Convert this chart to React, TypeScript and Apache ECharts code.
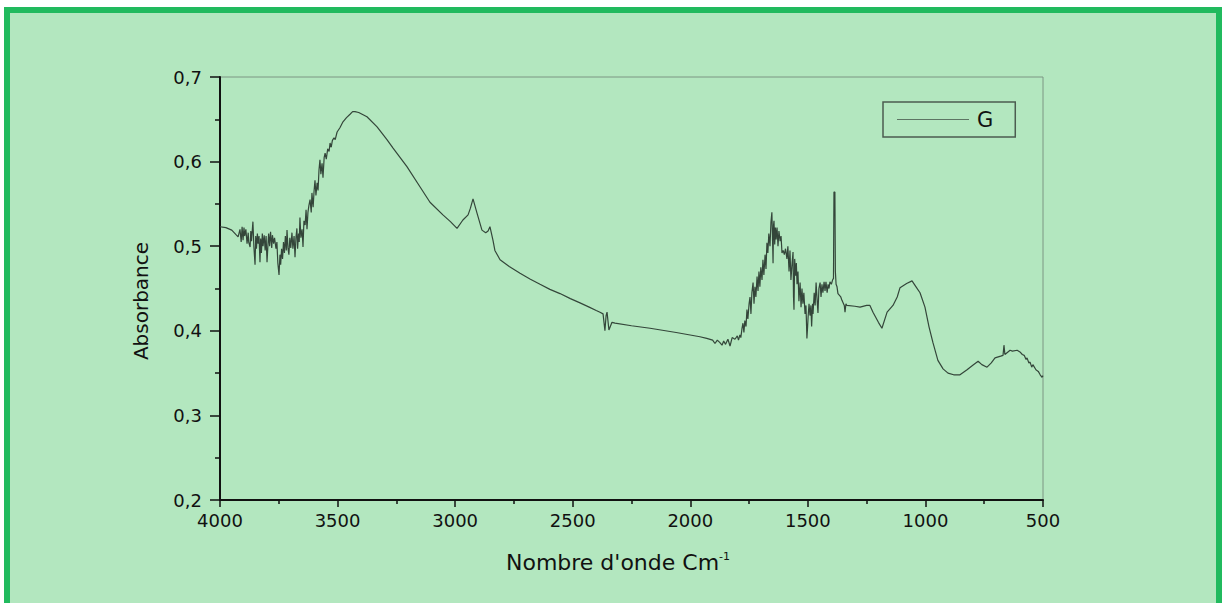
import React, { useEffect, useRef } from "react";
import * as echarts from "echarts";

const seriesName = "G";

const wavenumbers = [
  4000, 3975, 3950, 3930, 3923, 3915, 3910, 3906, 3902, 3898, 3895, 3890, 3885, 3880, 3878, 3872,
  3869, 3866, 3860, 3856, 3851, 3848, 3845, 3841, 3838, 3834, 3830, 3827, 3824, 3820, 3817, 3812,
  3808, 3804, 3800, 3796, 3793, 3789, 3785, 3780, 3777, 3772, 3768, 3762, 3758, 3754, 3749, 3745,
  3742, 3738, 3734, 3730, 3726, 3722, 3718, 3715, 3711, 3707, 3703, 3699, 3694, 3690, 3685, 3681,
  3677, 3673, 3670, 3666, 3663, 3660, 3656, 3651, 3647, 3643, 3638, 3634, 3630, 3626, 3622, 3617,
  3612, 3609, 3604, 3600, 3596, 3592, 3587, 3583, 3579, 3575, 3571, 3566, 3562, 3557, 3553, 3548,
  3542, 3536, 3532, 3527, 3522, 3515, 3510, 3502, 3490, 3477, 3462, 3447, 3436, 3426, 3410, 3375,
  3332, 3290, 3264, 3205, 3149, 3107, 3052, 3020, 2992, 2967, 2945, 2935, 2924, 2907, 2886, 2870,
  2860, 2852, 2839, 2831, 2809, 2770, 2724, 2680, 2639, 2597, 2554, 2510, 2469, 2430, 2400, 2384,
  2371, 2363, 2358, 2354, 2346, 2333, 2320, 2250, 2171, 2060, 1959, 1930, 1905, 1895, 1885, 1874,
  1865, 1858, 1850, 1840, 1831, 1822, 1810, 1800, 1795, 1789, 1785, 1780, 1776, 1772, 1768, 1763,
  1759, 1755, 1750, 1746, 1742, 1738, 1733, 1729, 1725, 1721, 1716, 1712, 1708, 1704, 1700, 1695,
  1691, 1687, 1682, 1678, 1674, 1670, 1666, 1661, 1657, 1653, 1650, 1648, 1646, 1644, 1641, 1638,
  1635, 1631, 1627, 1623, 1618, 1614, 1610, 1605, 1600, 1595, 1589, 1585, 1580, 1576, 1572, 1567,
  1563, 1561, 1559, 1556, 1552, 1549, 1546, 1542, 1538, 1533, 1529, 1525, 1521, 1517, 1512, 1508,
  1504, 1501, 1499, 1495, 1491, 1487, 1484, 1480, 1478, 1473, 1469, 1465, 1461, 1457, 1453, 1448,
  1444, 1440, 1436, 1431, 1427, 1423, 1418, 1414, 1410, 1406, 1400, 1395, 1391, 1389, 1385, 1383,
  1380, 1376, 1372, 1360, 1355, 1345, 1342, 1338, 1334, 1300, 1278, 1250, 1236, 1223, 1200, 1185,
  1163, 1138, 1120, 1108, 1080, 1057, 1040, 1023, 1002, 985, 968, 947, 925, 904, 880, 853,
  823, 800, 776, 760, 738, 720, 704, 680, 670, 666, 662, 640, 630, 610, 598, 588,
  580, 572, 568, 560, 555, 548, 543, 530, 520, 512, 504, 500,
];

const absorbance = [
  0.523, 0.522, 0.519, 0.513, 0.511, 0.52, 0.505, 0.523, 0.507, 0.522, 0.512, 0.52, 0.503, 0.516, 0.505, 0.499,
  0.518, 0.506, 0.529, 0.5, 0.478, 0.512, 0.497, 0.515, 0.503, 0.512, 0.481, 0.509, 0.492, 0.515, 0.5, 0.513,
  0.495, 0.512, 0.481, 0.502, 0.515, 0.5, 0.517, 0.498, 0.513, 0.503, 0.51, 0.497, 0.505, 0.48, 0.466, 0.49,
  0.478, 0.497, 0.485, 0.505, 0.492, 0.512, 0.495, 0.519, 0.498, 0.49, 0.51, 0.498, 0.516, 0.497, 0.512, 0.487,
  0.51, 0.521, 0.497, 0.515, 0.505, 0.534, 0.51, 0.52, 0.499, 0.53, 0.525, 0.543, 0.52, 0.54, 0.548, 0.555,
  0.54, 0.563, 0.546, 0.565, 0.578, 0.56, 0.575, 0.566, 0.59, 0.602, 0.585, 0.598, 0.581, 0.605, 0.61, 0.603,
  0.615, 0.612, 0.622, 0.617, 0.625, 0.628, 0.626, 0.635, 0.64, 0.647, 0.652, 0.656, 0.659, 0.659, 0.658, 0.653,
  0.641, 0.626, 0.616, 0.594, 0.57, 0.552, 0.537, 0.529, 0.521, 0.531, 0.537, 0.545, 0.556, 0.539, 0.519, 0.516,
  0.518, 0.523, 0.507, 0.495, 0.484, 0.476, 0.468, 0.461, 0.455, 0.449, 0.444, 0.438, 0.433, 0.428, 0.424, 0.422,
  0.42, 0.4, 0.418, 0.422, 0.401, 0.41, 0.409, 0.406, 0.403, 0.398, 0.393, 0.391, 0.389, 0.385, 0.389, 0.386,
  0.383, 0.388, 0.384, 0.39, 0.382, 0.392, 0.39, 0.394, 0.389, 0.395, 0.392, 0.403, 0.409, 0.398, 0.412, 0.405,
  0.425, 0.414, 0.432, 0.44, 0.42, 0.445, 0.457, 0.432, 0.452, 0.44, 0.464, 0.447, 0.47, 0.452, 0.475, 0.46,
  0.484, 0.466, 0.49, 0.473, 0.504, 0.492, 0.515, 0.5, 0.528, 0.54, 0.505, 0.48, 0.525, 0.53, 0.502, 0.522,
  0.508, 0.522, 0.5, 0.518, 0.506, 0.512, 0.492, 0.495, 0.49, 0.497, 0.485, 0.5, 0.47, 0.495, 0.46, 0.48,
  0.493, 0.44, 0.425, 0.485, 0.465, 0.48, 0.455, 0.47, 0.435, 0.457, 0.428, 0.45, 0.432, 0.445, 0.42, 0.43,
  0.391, 0.405, 0.416, 0.432, 0.418, 0.43, 0.405, 0.432, 0.42, 0.445, 0.43, 0.457, 0.438, 0.421, 0.45, 0.457,
  0.44, 0.455, 0.445, 0.458, 0.447, 0.458, 0.445, 0.455, 0.45, 0.458, 0.455, 0.46, 0.462, 0.564, 0.564, 0.47,
  0.455, 0.452, 0.444, 0.44, 0.436, 0.43, 0.422, 0.432, 0.43, 0.429, 0.428, 0.43, 0.43, 0.422, 0.41, 0.403,
  0.422, 0.43, 0.44, 0.451, 0.456, 0.459, 0.452, 0.445, 0.428, 0.405, 0.386, 0.365, 0.355, 0.35, 0.348, 0.348,
  0.354, 0.359, 0.364, 0.36, 0.357, 0.362, 0.368, 0.37, 0.371, 0.383, 0.372, 0.377, 0.376, 0.377, 0.375, 0.372,
  0.371, 0.366, 0.368, 0.362, 0.363, 0.357, 0.36, 0.354, 0.352, 0.348, 0.345, 0.347,
];

const xTitle = "Nombre d'onde Cm";
const xTitleSup = "-1";
const yTitle = "Absorbance";

const FONT = "'DejaVu Sans', 'Liberation Sans', Arial, sans-serif";
const INK = "#111111";
const LINE = "#34463a";

export default function App() {
  const ref = useRef<HTMLDivElement>(null);

  useEffect(() => {
    if (!ref.current) return;
    const chart = echarts.init(ref.current, undefined, { renderer: "svg" });
    const data = wavenumbers.map((w, i) => [w, absorbance[i]]);
    chart.setOption({
      animation: false,
      backgroundColor: "transparent",
      grid: {
        left: 220,
        top: 77,
        width: 823,
        height: 423,
        show: true,
        borderColor: "#7d9683",
        borderWidth: 1,
        backgroundColor: "transparent",
      },
      legend: {
        data: [{ name: seriesName, icon: "rect" }],
        left: 883,
        top: 102,
        orient: "horizontal",
        itemWidth: 72,
        itemHeight: 1.2,
        padding: [7, 22, 7, 14],
        borderColor: "#4c5c50",
        borderWidth: 1.5,
        selectedMode: false,
        itemStyle: { color: "#5d7563" },
        textStyle: { fontSize: 21, color: INK, fontFamily: FONT, padding: [0, 0, 0, 3] },
      },
      xAxis: {
        type: "value",
        min: 500,
        max: 4000,
        interval: 500,
        inverse: true,
        axisLine: { show: true, onZero: false, lineStyle: { color: INK, width: 2 } },
        axisTick: { show: true, inside: false, length: 7, lineStyle: { color: INK, width: 1.5 } },
        minorTick: { show: true, splitNumber: 2, length: 4, lineStyle: { color: INK, width: 1.5 } },
        splitLine: { show: false },
        minorSplitLine: { show: false },
        axisLabel: {
          margin: 11,
          fontSize: 18,
          color: INK,
          fontFamily: FONT,
          formatter: (v: number) => String(v),
        },
      },
      yAxis: {
        type: "value",
        min: 0.2,
        max: 0.7,
        interval: 0.1,
        axisLine: { show: true, onZero: false, lineStyle: { color: INK, width: 2 } },
        axisTick: { show: true, inside: false, length: 10, lineStyle: { color: INK, width: 1.5 } },
        minorTick: { show: true, splitNumber: 2, length: 5, lineStyle: { color: INK, width: 1.5 } },
        splitLine: { show: false },
        minorSplitLine: { show: false },
        axisLabel: {
          margin: 18,
          fontSize: 18,
          color: INK,
          fontFamily: FONT,
          formatter: (v: number) => v.toFixed(1).replace(".", ","),
        },
      },
      series: [
        {
          name: seriesName,
          type: "line",
          data,
          symbol: "none",
          showSymbol: false,
          color: LINE,
          lineStyle: { color: LINE, width: 1.2 },
        },
      ],
      graphic: [
        {
          type: "text",
          x: 618,
          y: 562,
          style: {
            text: xTitle + "{sup|" + xTitleSup + "}",
            fontSize: 22,
            fontFamily: FONT,
            fill: INK,
            align: "center",
            verticalAlign: "middle",
            rich: {
              sup: { fontSize: 11, fontFamily: FONT, fill: INK, verticalAlign: "top", padding: [0, 0, 12, 0] },
            },
          },
        },
        {
          type: "text",
          x: 141,
          y: 301,
          rotation: Math.PI / 2,
          style: {
            text: yTitle,
            fontSize: 20,
            fontFamily: FONT,
            fill: INK,
            align: "center",
            verticalAlign: "middle",
          },
        },
      ],
    });
    return () => chart.dispose();
  }, []);

  return (
    <div style={{ position: "fixed", left: 0, top: 0, width: 1226, height: 603, background: "#ffffff", overflow: "hidden" }}>
      <div
        style={{
          position: "absolute",
          left: 4,
          top: 7,
          width: 1218,
          height: 640,
          boxSizing: "border-box",
          border: "6px solid #21ba5e",
          background: "#b3e7bf",
        }}
      />
      <div ref={ref} style={{ position: "absolute", left: 0, top: 0, width: 1226, height: 603 }} />
    </div>
  );
}
